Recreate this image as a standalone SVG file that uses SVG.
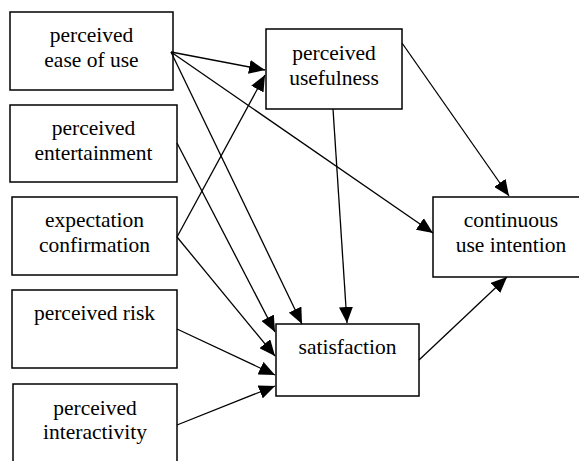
<svg xmlns="http://www.w3.org/2000/svg" width="579" height="461" viewBox="0 0 579 461">
<style>
.box{fill:#fff;stroke:#000;stroke-width:1.5}
.lbl{font-family:"Liberation Serif","Times New Roman",serif;font-size:21.5px;fill:#000;text-anchor:middle}
.edge{stroke:#000;stroke-width:1.3;fill:none;marker-end:url(#ah)}
</style>
<defs>
<marker id="ah" markerUnits="userSpaceOnUse" viewBox="0 0 16 14" markerWidth="16" markerHeight="14" refX="16" refY="7" orient="auto">
<path d="M0,0 L16,7 L0,14 z" fill="#000"/>
</marker>
</defs>
<rect width="579" height="461" fill="#fff"/>
<g id="n-ease">
<rect class="box" x="10" y="12" width="163" height="78"/>
<text class="lbl" x="91.5" y="42">perceived</text>
<text class="lbl" x="91.5" y="67">ease of use</text>
</g>
<g id="n-entertainment">
<rect class="box" x="10" y="105" width="167" height="77"/>
<text class="lbl" x="93.5" y="135">perceived</text>
<text class="lbl" x="93.5" y="160">entertainment</text>
</g>
<g id="n-expectation">
<rect class="box" x="12" y="197" width="165" height="78"/>
<text class="lbl" x="94.5" y="227">expectation</text>
<text class="lbl" x="94.5" y="252">confirmation</text>
</g>
<g id="n-risk">
<rect class="box" x="12" y="290" width="165" height="78"/>
<text class="lbl" x="94.5" y="320">perceived risk</text>
</g>
<g id="n-interactivity">
<rect class="box" x="13" y="384" width="164" height="90"/>
<text class="lbl" x="95" y="415">perceived</text>
<text class="lbl" x="95" y="439">interactivity</text>
</g>
<g id="n-usefulness">
<rect class="box" x="266" y="29" width="136" height="80"/>
<text class="lbl" x="334" y="60">perceived</text>
<text class="lbl" x="334" y="85">usefulness</text>
</g>
<g id="n-continuous">
<rect class="box" x="433" y="197" width="160" height="80"/>
<text class="lbl" x="511" y="227">continuous</text>
<text class="lbl" x="511" y="252">use intention</text>
</g>
<g id="n-satisfaction">
<rect class="box" x="276" y="324" width="143" height="72"/>
<text class="lbl" x="347.5" y="354">satisfaction</text>
</g>
<g id="connectors">
<line class="edge" x1="171" y1="52" x2="265" y2="70"/>
<line class="edge" x1="171" y1="52" x2="302" y2="324"/>
<line class="edge" x1="171" y1="52" x2="433" y2="233"/>
<line class="edge" x1="177" y1="143" x2="275" y2="332"/>
<line class="edge" x1="177" y1="237" x2="265" y2="75"/>
<line class="edge" x1="177" y1="237" x2="275" y2="356"/>
<line class="edge" x1="177" y1="329" x2="275" y2="375"/>
<line class="edge" x1="177" y1="425" x2="275" y2="386"/>
<line class="edge" x1="333" y1="109" x2="347" y2="323"/>
<line class="edge" x1="402" y1="43" x2="509" y2="196"/>
<line class="edge" x1="419" y1="360" x2="507" y2="277"/>
</g>
</svg>
